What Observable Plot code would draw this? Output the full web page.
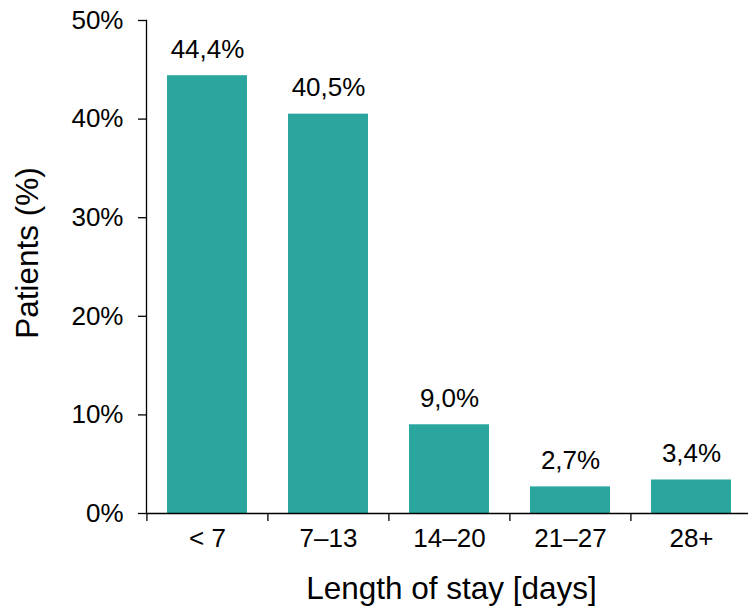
<!DOCTYPE html>
<html>
<head>
<meta charset="utf-8">
<script src="https://cdn.jsdelivr.net/npm/d3@7"></script>
<script src="https://cdn.jsdelivr.net/npm/@observablehq/plot@0.6"></script>
<style>
  html, body { margin: 0; padding: 0; background: #fff; }
</style>
</head>
<body>
<div id="chart"></div>
<script>
const categories = ["< 7", "7–13", "14–20", "21–27", "28+"];
const values = [44.4, 40.5, 9.0, 2.7, 3.4];
const yTicks = [0, 10, 20, 30, 40, 50];
const xTitle = "Length of stay [days]";
const yTitle = "Patients (%)";

const data = categories.map((c, i) => ({cat: c, value: values[i]}));
const fmt = v => v.toFixed(1).replace(".", ",") + "%";

const chart = Plot.plot({
  width: 748,
  height: 606,
  marginLeft: 146,
  marginRight: 0,
  marginTop: 20,
  marginBottom: 93,
  style: {fontFamily: "'Liberation Sans', Arial, sans-serif", fontSize: "26px", color: "black", background: "white"},
  x: {domain: categories, range: [146, 752], paddingInner: 0.34, paddingOuter: 0.17},
  y: {domain: [0, 50]},
  marks: [
    Plot.barY(data, {x: "cat", y: "value", fill: "#2AA69F"}),
    Plot.ruleY([0], {stroke: "black", strokeWidth: 1.3}),
    Plot.frame({anchor: "left", stroke: "black", strokeWidth: 1.3}),
    Plot.axisY({ticks: yTicks, tickFormat: d => d + "%", tickSize: 8, tickPadding: 15, fontSize: 26, label: null, strokeWidth: 1.3}),
    Plot.axisX({tickSize: 8, tickFormat: () => "", dx: -60.6, label: null, strokeWidth: 1.3}),
    Plot.axisX({tickSize: 0, tickPadding: 15, fontSize: 26, label: null}),
    Plot.text(data, {x: "cat", y: "value", text: d => fmt(d.value), lineAnchor: "bottom", dy: -18, fontSize: 26, fill: "black"}),
    Plot.text([xTitle], {frameAnchor: "bottom", text: d => d, textAnchor: "middle", lineAnchor: "bottom", dy: 85, dx: 4, fontSize: 31.5, fill: "black"}),
    Plot.text([yTitle], {frameAnchor: "left", text: d => d, textAnchor: "middle", lineAnchor: "middle", rotate: -90, dx: -119, dy: -14, fontSize: 31.5, fill: "black"})
  ]
});
document.getElementById("chart").appendChild(chart);
</script>
</body>
</html>
